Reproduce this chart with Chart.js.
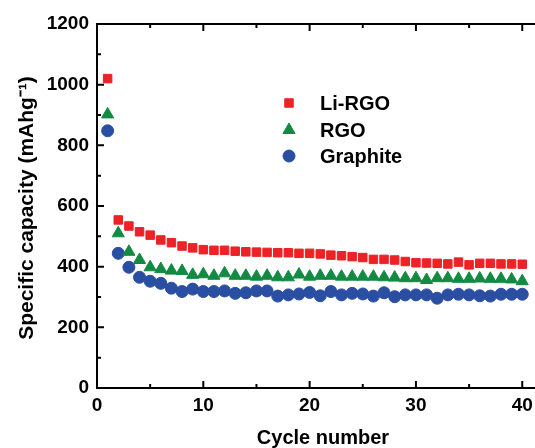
<!DOCTYPE html>
<html>
<head>
<meta charset="utf-8">
<script src="https://cdn.jsdelivr.net/npm/chart.js@4.4.1/dist/chart.umd.min.js"></script>
<style>
  html, body { margin: 0; padding: 0; background: #fff; }
  #wrap { width: 535px; height: 448px; position: relative; }
</style>
</head>
<body>
<div id="wrap"><canvas id="capChart"></canvas></div>
<script>
// datos
const cycles = Array.from({ length: 40 }, (_, i) => i + 1);

const liRgo = [1020, 554, 534, 515, 504, 488, 479, 468, 462, 456,
               454, 454, 451, 449, 448, 447, 446, 446, 444, 444,
               442, 438, 436, 433, 430, 424, 424, 422, 417, 413,
               412, 411, 409, 415, 406, 411, 411, 409, 409, 408];

const rgo = [902, 510, 449, 422, 398, 392, 387, 386, 373, 375,
             370, 378, 370, 370, 367, 370, 365, 365, 374, 367,
             370, 370, 367, 367, 367, 367, 365, 364, 362, 362,
             356, 362, 362, 360, 360, 361, 360, 360, 358, 352];

const graphite = [848, 444, 398, 365, 352, 345, 329, 318, 326, 318,
                  318, 320, 312, 314, 320, 320, 303, 307, 310, 315,
                  304, 318, 307, 312, 310, 303, 314, 301, 307, 307,
                  307, 296, 307, 309, 307, 304, 303, 309, 309, 309];

const xTicks = [0, 10, 20, 30, 40];
const yTicks = [0, 200, 400, 600, 800, 1000, 1200];
const seriesNames = ['Li-RGO', 'RGO', 'Graphite'];

const FONT = 'Liberation Sans, Arial, sans-serif';

// ejes tipo Origin: caja, ticks hacia adentro, titulos y leyenda
const framePlugin = {
    id: 'frame',
    afterDraw(chart) {
        const { ctx, chartArea: a } = chart;
        const xs = chart.scales.x, ys = chart.scales.y;
        const edge = chart.width;
        ctx.save();
        ctx.strokeStyle = '#000';
        ctx.lineWidth = 2;
        ctx.beginPath();
        ctx.moveTo(a.left, a.bottom); ctx.lineTo(a.left, a.top); ctx.lineTo(edge, a.top);
        ctx.moveTo(a.left - 1, a.bottom); ctx.lineTo(edge, a.bottom);
        ctx.stroke();

        ctx.beginPath();
        for (let v = 0; v <= 40; v += 5) {
            const px = xs.getPixelForValue(v);
            const len = v % 10 === 0 ? 7 : 4;
            ctx.moveTo(px, a.bottom); ctx.lineTo(px, a.bottom - len);
            ctx.moveTo(px, a.top); ctx.lineTo(px, a.top + len);
        }
        for (let v = 0; v <= 1200; v += 100) {
            const py = ys.getPixelForValue(v);
            const len = v % 200 === 0 ? 7 : 4;
            ctx.moveTo(a.left, py); ctx.lineTo(a.left + len, py);
        }
        ctx.stroke();

        // titulos de ejes
        ctx.fillStyle = '#000';
        ctx.font = 'bold 20px ' + FONT;
        ctx.textAlign = 'center';
        ctx.textBaseline = 'middle';
        ctx.fillText('Cycle number', 323, 438);
        ctx.save();
        ctx.translate(27, 208);
        ctx.rotate(-Math.PI / 2);
        ctx.font = 'bold 21px ' + FONT;
        ctx.fillText('Specific capacity (mAhg\u207B\u00B9)', 0, 0);
        ctx.restore();

        // leyenda
        ctx.textAlign = 'left';
        const legY = [103, 130, 156];
        chart.data.datasets.forEach((ds, i) => {
            ctx.fillStyle = ds.backgroundColor;
            ctx.strokeStyle = ds.borderColor;
            ctx.lineWidth = 1;
            Chart.helpers.drawPoint(ctx, {
                pointStyle: ds.pointStyle,
                radius: ds.pointRadius,
                borderWidth: 1,
                rotation: 0
            }, 289, legY[i]);
            ctx.fillStyle = '#000';
            ctx.fillText(ds.label, 320, legY[i] + 1);
        });
        ctx.restore();
    }
};

function makeSet(label, values, color, style, radius) {
    return {
        label: label,
        data: values,
        backgroundColor: color,
        borderColor: color,
        pointStyle: style,
        pointRadius: radius,
        pointHoverRadius: radius,
        pointBorderWidth: 1,
        showLine: false
    };
}

new Chart(document.getElementById('capChart'), {
    type: 'line',
    data: {
        labels: cycles,
        datasets: [
            makeSet(seriesNames[0], liRgo, '#ec2227', 'rect', 6),
            makeSet(seriesNames[1], rgo, '#138a43', 'triangle', 7),
            makeSet(seriesNames[2], graphite, '#2a4ea2', 'circle', 6)
        ]
    },
    options: {
        responsive: true,
        maintainAspectRatio: false,
        animation: false,
        layout: { autoPadding: false, padding: { top: 24, right: 0, bottom: 0, left: 0 } },
        plugins: {
            legend: { display: false },
            tooltip: { enabled: false }
        },
        scales: {
            x: {
                type: 'linear',
                min: 0,
                max: 41.2,
                grid: { display: false, drawTicks: false },
                border: { display: false },
                afterBuildTicks: s => { s.ticks = xTicks.map(v => ({ value: v })); },
                afterFit: s => { s.height = 60; s.paddingRight = 0; },
                ticks: {
                    color: '#000',
                    padding: 6,
                    maxRotation: 0,
                    callback: v => String(v),
                    font: { family: FONT, size: 19, weight: 'bold' }
                }
            },
            y: {
                min: 0,
                max: 1200,
                grid: { display: false, drawTicks: false },
                border: { display: false },
                afterBuildTicks: s => { s.ticks = yTicks.map(v => ({ value: v })); },
                afterFit: s => { s.width = 97; },
                ticks: {
                    color: '#000',
                    padding: 8,
                    callback: v => String(v),
                    font: { family: FONT, size: 19, weight: 'bold' }
                }
            }
        }
    },
    plugins: [framePlugin]
});
</script>
</body>
</html>
